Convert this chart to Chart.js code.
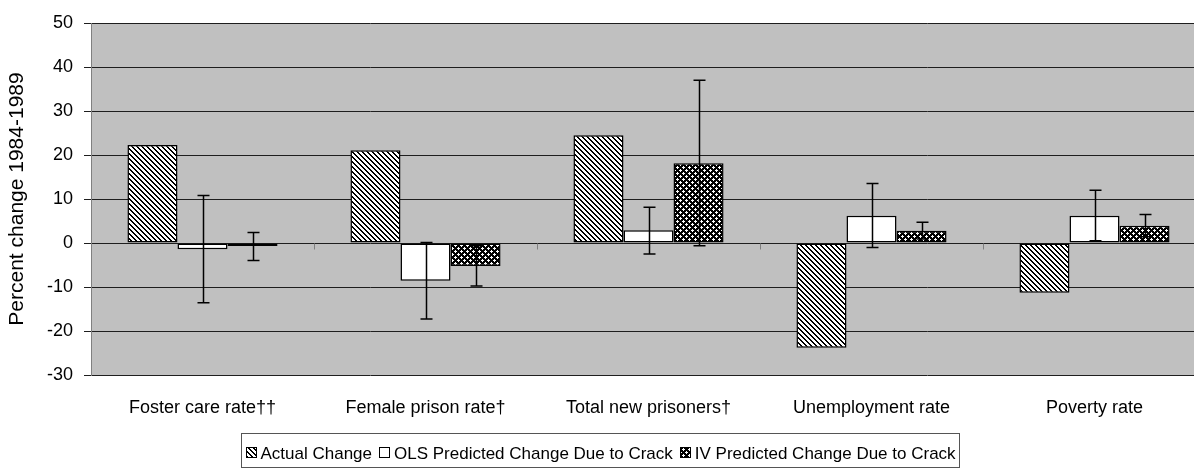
<!DOCTYPE html>
<html>
<head>
<meta charset="utf-8">
<script src="https://cdn.jsdelivr.net/npm/chart.js@4.4.1/dist/chart.umd.min.js"></script>
<style>
  html, body { margin: 0; padding: 0; background: #fff; overflow: hidden; }
  #wrap { width: 1194px; height: 469px; overflow: hidden; position: relative; }
  canvas { display: block; }
</style>
</head>
<body>
<div id="wrap"><canvas id="c" width="1210" height="469"></canvas></div>
<script>
const categories = ['Foster care rate\u2020\u2020', 'Female prison rate\u2020', 'Total new prisoners\u2020', 'Unemployment rate', 'Poverty rate'];
const seriesNames = ['Actual Change', 'OLS Predicted Change Due to Crack', 'IV Predicted Change Due to Crack'];
const actualChange = [22.3, 21.1, 24.5, -23.8, -11.3];
const olsChange = [-1.4, -8.6, 2.9, 6.2, 6.2];
const ivChange = [-0.7, -5.2, 18.1, 2.8, 3.9];
const olsLow = [-13.6, -17.3, -2.5, -1.0, 0.5];
const olsHigh = [10.8, 0.1, 8.1, 13.5, 12.0];
const ivLow = [-4.0, -9.8, -0.6, 0.9, 1.4];
const ivHigh = [2.4, -0.6, 37.0, 4.7, 6.5];
const yTicks = [50, 40, 30, 20, 10, 0, -10, -20, -30];
const yTitle = 'Percent change 1984-1989';

const FONT = '"Liberation Sans", Arial, sans-serif';

function makeTile(size, fn) {
  const c = document.createElement('canvas');
  c.width = size; c.height = size;
  const x = c.getContext('2d');
  const img = x.createImageData(size, size);
  for (let j = 0; j < size; j++) for (let i = 0; i < size; i++) {
    const k = (j * size + i) * 4;
    const v = fn(i, j) ? 0 : 255;
    img.data[k] = v; img.data[k + 1] = v; img.data[k + 2] = v; img.data[k + 3] = 255;
  }
  x.putImageData(img, 0, 0);
  return c;
}
const ctx0 = document.getElementById('c').getContext('2d');
const hatchTile = makeTile(5, (i, j) => { const d = ((i - j) % 5 + 5) % 5; return d === 0 || d === 1; });
const whiteIV = new Set(['2,1','1,2','2,2','3,2','2,3','5,4','4,5','5,5','0,5','5,0']);
const ivTile = makeTile(6, (i, j) => !whiteIV.has(i + ',' + j));
const hatchPattern = ctx0.createPattern(hatchTile, 'repeat');
const ivPattern = ctx0.createPattern(ivTile, 'repeat');
const fills = [hatchPattern, '#ffffff', ivPattern];

const bgPlugin = {
  id: 'bg',
  beforeDraw(chart) {
    const { ctx, chartArea: a } = chart;
    ctx.save();
    ctx.fillStyle = '#ffffff';
    ctx.fillRect(0, 0, chart.width, chart.height);
    ctx.fillStyle = '#c0c0c0';
    ctx.fillRect(a.left, a.top, a.right - a.left, a.bottom - a.top);
    ctx.restore();
  }
};

const extrasPlugin = {
  id: 'extras',
  afterDatasetsDraw(chart) {
    const { ctx } = chart;
    const y = chart.scales.y, x = chart.scales.x;
    const y0 = Math.round(y.getPixelForValue(0)) + 0.5;
    ctx.save();
    ctx.strokeStyle = '#808080';
    ctx.lineWidth = 1;
    const n = categories.length;
    const w = (x.right - x.left) / n;
    for (let k = 1; k < n; k++) {
      const xx = Math.round(x.left + k * w) + 0.5;
      ctx.beginPath(); ctx.moveTo(xx, y0); ctx.lineTo(xx, y0 + 6); ctx.stroke();
    }
    ctx.strokeStyle = '#000';
    ctx.lineWidth = 1.5;
    const errs = [[1, olsLow, olsHigh], [2, ivLow, ivHigh]];
    errs.forEach(([di, lo, hi]) => {
      const meta = chart.getDatasetMeta(di);
      meta.data.forEach((bar, i) => {
        const bx = Math.round(bar.x) + 0.5;
        const ylo = y.getPixelForValue(lo[i]);
        const yhi = y.getPixelForValue(hi[i]);
        ctx.beginPath();
        ctx.moveTo(bx, yhi); ctx.lineTo(bx, ylo);
        ctx.moveTo(bx - 6, yhi); ctx.lineTo(bx + 6, yhi);
        ctx.moveTo(bx - 6, ylo); ctx.lineTo(bx + 6, ylo);
        ctx.stroke();
      });
    });
    ctx.restore();
  },
  afterDraw(chart) {
    const { ctx } = chart;
    ctx.save();
    ctx.font = '17px ' + FONT;
    ctx.textBaseline = 'alphabetic';
    const box = 11, gapBoxText = 4, gapItems = 7, pad = 4;
    let total = 0;
    const widths = seriesNames.map(s => ctx.measureText(s).width);
    widths.forEach((tw, i) => { total += box + gapBoxText + tw + (i < widths.length - 1 ? gapItems : 0); });
    const legW = Math.round(total + pad * 2);
    const cx = 600;
    const left = Math.round(cx - legW / 2) + 0.5;
    const top = 433.5;
    ctx.strokeStyle = '#555';
    ctx.lineWidth = 1;
    ctx.fillStyle = '#fff';
    ctx.fillRect(left, top, legW, 34);
    ctx.strokeRect(left, top, legW, 34);
    let xx = left + pad;
    const base = 459;
    seriesNames.forEach((s, i) => {
      const by = base - 12;
      ctx.fillStyle = fills[i];
      ctx.fillRect(Math.round(xx), by, box, box);
      ctx.strokeStyle = '#000';
      ctx.strokeRect(Math.round(xx) + 0.5, by + 0.5, box - 1, box - 1);
      xx += box + gapBoxText;
      ctx.fillStyle = '#000';
      ctx.fillText(s, xx, base);
      xx += widths[i] + gapItems;
    });
    ctx.restore();
  }
};

new Chart(document.getElementById('c'), {
  type: 'bar',
  data: {
    labels: categories,
    datasets: [
      { label: seriesNames[0], data: actualChange, backgroundColor: hatchPattern },
      { label: seriesNames[1], data: olsChange, backgroundColor: '#ffffff' },
      { label: seriesNames[2], data: ivChange, backgroundColor: ivPattern }
    ]
  },
  options: {
    responsive: false,
    animation: false,
    devicePixelRatio: 1,
    layout: { padding: { left: 0, right: 4, top: 23, bottom: 30 } },
    datasets: {
      bar: {
        borderColor: '#000',
        borderWidth: 1.5,
        borderSkipped: false,
        categoryPercentage: 0.673,
        barPercentage: 1.0
      }
    },
    plugins: {
      legend: { display: false },
      tooltip: { enabled: false }
    },
    scales: {
      x: {
        grid: { display: false, drawTicks: false },
        border: { display: false },
        ticks: { color: '#000', font: { size: 18, family: FONT }, padding: 22, maxRotation: 0, autoSkip: false },
        afterFit(scale) { scale.height = 64; }
      },
      y: {
        min: -30, max: 50,
        afterBuildTicks(scale) { scale.ticks = yTicks.slice().reverse().map(v => ({ value: v })); },
        grid: { color: '#1e1e1e', lineWidth: 1, tickLength: 7, drawTicks: true },
        border: { display: true, color: '#808080', width: 1 },
        ticks: { color: '#000', font: { size: 18, family: FONT }, padding: 11 },
        title: { display: true, text: yTitle, color: '#000', font: { size: 21, family: FONT }, padding: { top: 5, bottom: 0 } },
        afterFit(scale) { scale.width = 91; }
      }
    }
  },
  plugins: [bgPlugin, extrasPlugin]
});
</script>
</body>
</html>
